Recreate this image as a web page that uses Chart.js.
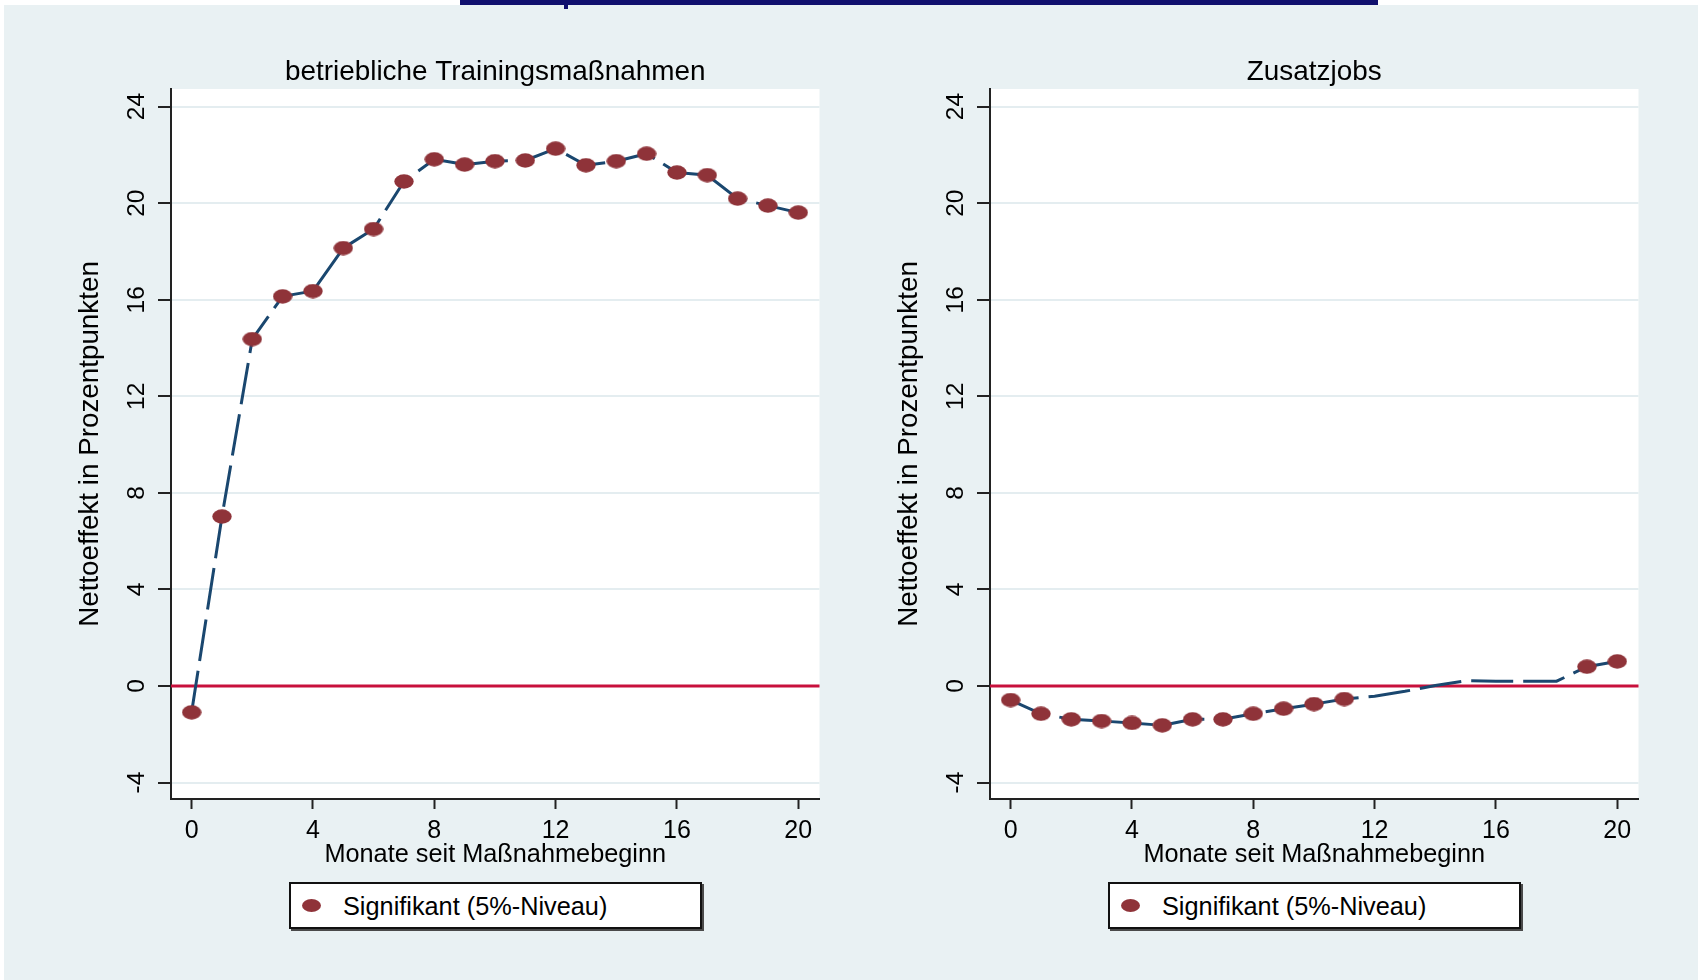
<!DOCTYPE html>
<html>
<head>
<meta charset="utf-8">
<script src="https://cdn.jsdelivr.net/npm/chart.js@4.4.1/dist/chart.umd.min.js"></script>
<style>
html, body { margin: 0; padding: 0; }
body {
    width: 1698px; height: 980px; position: relative; overflow: hidden;
    background: #e9f1f3;
    font-family: 'Liberation Sans', Arial, sans-serif;
}
#topWhite { position: absolute; left: 0; top: 0; width: 1698px; height: 5px; background: #fff; }
#leftWhite { position: absolute; left: 0; top: 0; width: 4px; height: 980px; background: #fff; }
#navyBar { position: absolute; left: 460px; top: 0; width: 918px; height: 5px; background: #10106e; }
#navyNub { position: absolute; left: 564px; top: 0; width: 4px; height: 9px; background: #10106e; }
.panel { position: absolute; top: 40px; width: 800px; height: 832px; }
.legend {
    position: absolute; top: 882px; width: 413px; height: 47px; box-sizing: border-box;
    background: #fff; border: 2px solid #111; box-shadow: 2px 2px 0 #4a4a4a;
}
.legend .mk {
    position: absolute; left: 11px; top: 15px; width: 19px; height: 13px;
    border-radius: 50%; background: #8f3339;
}
.legend .lt {
    position: absolute; left: 52px; top: 1px; line-height: 43px;
    font-size: 25.3px; color: #000;
}
</style>
</head>
<body>
<div id="topWhite"></div>
<div id="leftWhite"></div>
<div id="navyBar"></div>
<div id="navyNub"></div>

<div class="panel" style="left:40px"><canvas id="leftChart" width="800" height="832"></canvas></div>
<div class="panel" style="left:859px"><canvas id="rightChart" width="800" height="832"></canvas></div>

<div class="legend" style="left:289px"><span class="mk"></span><span class="lt">Signifikant (5%-Niveau)</span></div>
<div class="legend" style="left:1108px"><span class="mk"></span><span class="lt">Signifikant (5%-Niveau)</span></div>

<script>
// Months since start of measure
const months = [0, 1, 2, 3, 4, 5, 6, 7, 8, 9, 10, 11, 12, 13, 14, 15, 16, 17, 18, 19, 20];

// Net effect in percentage points
const trainingValues = [-1.09, 7.02, 14.37, 16.14, 16.36, 18.14, 18.93, 20.9, 21.82, 21.6, 21.74,
                        21.77, 22.26, 21.57, 21.74, 22.05, 21.27, 21.16, 20.19, 19.9, 19.61];
const trainingSignif = [1, 1, 1, 1, 1, 1, 1, 1, 1, 1, 1, 1, 1, 1, 1, 1, 1, 1, 1, 1, 1];

const jobsValues = [-0.58, -1.15, -1.38, -1.45, -1.53, -1.63, -1.38, -1.38, -1.15, -0.94, -0.75,
                    -0.54, -0.42, -0.22, 0.02, 0.22, 0.2, 0.2, 0.2, 0.8, 1.02];
const jobsSignif = [1, 1, 1, 1, 1, 1, 1, 1, 1, 1, 1, 1, 0, 0, 0, 0, 0, 0, 0, 1, 1];

// Tick labels
const xTicks = [0, 4, 8, 12, 16, 20];
const yTicks = [-4, 0, 4, 8, 12, 16, 20, 24];
const zeroLine = 0;

const panelTitles = ["betriebliche Trainingsmaßnahmen", "Zusatzjobs"];
const xTitle = "Monate seit Maßnahmebeginn";
const yTitle = "Nettoeffekt in Prozentpunkten";

Chart.defaults.font.family = "'Liberation Sans', Arial, sans-serif";
Chart.defaults.color = "#000";

// Ellipse marker like the Stata dots
function ellipseMarker(w, h, color){
    let c = document.createElement("canvas");
    c.width = w; c.height = h;
    let g = c.getContext("2d");
    g.fillStyle = color;
    g.beginPath();
    g.ellipse(w / 2, h / 2, w / 2 - 0.3, h / 2 - 0.3, 0, 0, Math.PI * 2);
    g.fill();
    return c;
}
const marker = ellipseMarker(20, 15, "#8f3339");

// White plot region + red reference line at 0
const panelPlugin = {
    id: "panelBg",
    beforeDraw(chart){
        const {ctx, chartArea: a} = chart;
        ctx.save();
        ctx.fillStyle = "#fff";
        ctx.fillRect(a.left, a.top, a.right - a.left, a.bottom - a.top);
        ctx.restore();
    },
    beforeDatasetsDraw(chart){
        const {ctx, chartArea: a} = chart;
        const y = chart.scales.y.getPixelForValue(zeroLine);
        ctx.save();
        ctx.strokeStyle = "#c8103c";
        ctx.lineWidth = 3;
        ctx.beginPath();
        ctx.moveTo(a.left, y);
        ctx.lineTo(a.right, y);
        ctx.stroke();
        ctx.restore();
    }
};

function makePanel(canvasId, title, values, signif){
    let ctx = document.getElementById(canvasId);
    return new Chart(ctx, {
        type: "line",
        data: {
            datasets: [{
                data: months.map((m, i) => ({x: m, y: values[i]})),
                borderColor: "#1a476f",
                borderWidth: 3,
                borderDash: [42, 10],
                tension: 0,
                fill: false,
                pointStyle: marker,
                pointRadius: signif.map(s => s ? 9 : 0),
                pointHoverRadius: 0
            }]
        },
        options: {
            responsive: false,
            animation: false,
            layout: { padding: {left: 0, right: 20.5, top: 0, bottom: 0} },
            plugins: {
                legend: { display: false },
                tooltip: { enabled: false },
                title: {
                    display: true,
                    text: title,
                    fullSize: false,
                    font: { size: 27.9, weight: "normal", lineHeight: 1 },
                    color: "#000",
                    padding: { top: 18.5, bottom: 2.6 }
                }
            },
            scales: {
                x: {
                    type: "linear",
                    min: -0.68,
                    max: 20.7,
                    afterBuildTicks: s => { s.ticks = xTicks.map(v => ({value: v})); },
                    afterFit: s => { s.height = 73; },
                    grid: { drawOnChartArea: false, tickColor: "#222", tickLength: 10, tickWidth: 2 },
                    border: { display: true, color: "#222", width: 2 },
                    ticks: { font: { size: 25 }, padding: 7, color: "#000", maxRotation: 0, callback: v => String(v) },
                    title: { display: true, text: xTitle, font: { size: 25.3 }, padding: { top: 0, bottom: 1.5 }, color: "#000" }
                },
                y: {
                    min: -4.68,
                    max: 24.73,
                    afterBuildTicks: s => { s.ticks = yTicks.map(v => ({value: v})); },
                    afterFit: s => { s.width = 131; },
                    grid: { color: "#e4edf0", lineWidth: 2, tickColor: "#222", tickLength: 13, tickWidth: 2 },
                    border: { display: true, color: "#222", width: 2 },
                    ticks: { font: { size: 24.5 }, padding: 7.4, color: "#000", minRotation: 90, maxRotation: 90,
                             crossAlign: "center", callback: v => String(v) },
                    title: { display: true, text: yTitle, font: { size: 27.8 }, padding: { top: 34, bottom: 0 }, color: "#000" }
                }
            }
        },
        plugins: [panelPlugin]
    });
}

makePanel("leftChart", panelTitles[0], trainingValues, trainingSignif);
makePanel("rightChart", panelTitles[1], jobsValues, jobsSignif);
</script>
</body>
</html>
